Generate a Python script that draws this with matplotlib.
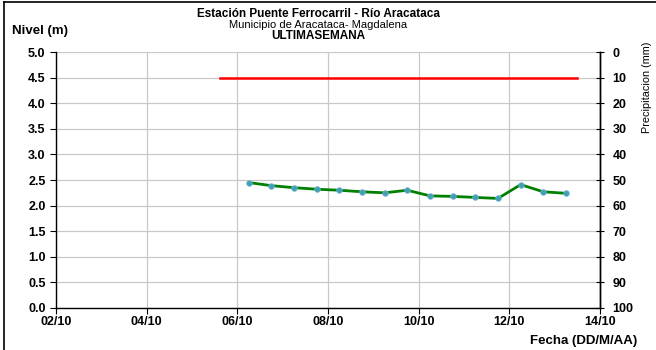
import pandas as pd
import matplotlib.pyplot as plt
import matplotlib.dates as mdates
from matplotlib.lines import Line2D

plt.rcParams['font.family'] = ['Liberation Sans', 'DejaVu Sans']

# Nivel readings every 12 hours (m)
fechas = pd.date_range('2023-10-06 06:00', periods=15, freq='12h')
nivel = [2.45, 2.39, 2.35, 2.32, 2.30, 2.27, 2.25, 2.30, 2.19, 2.18,
         2.16, 2.14, 2.41, 2.27, 2.24]

# Alert threshold line
umbral_fechas = pd.to_datetime(['2023-10-05 15:00', '2023-10-13 12:00'])
umbral = [4.5, 4.5]

xticks = pd.date_range('2023-10-02', '2023-10-14', freq='2D')
nivel_ticks = [i * 0.5 for i in range(11)]
precip_ticks = list(range(0, 101, 10))

fig = plt.figure(figsize=(6.56, 3.5), dpi=100)
ax = fig.add_axes([0.0854, 0.12, 0.8292, 0.7314])

ax.plot(umbral_fechas, umbral, color='#ff0000', linewidth=1.8, zorder=3)
ax.plot(fechas, nivel, color='#008000', linewidth=2.0, marker='o',
        markersize=4, markerfacecolor='#3fa0b0', markeredgecolor='#6fb0d8',
        markeredgewidth=0.6, zorder=4)

ax.set_xlim(xticks[0], xticks[-1])
ax.set_ylim(0, 5)
ax.set_xticks(xticks)
ax.xaxis.set_major_formatter(mdates.DateFormatter('%d/%m'))
ax.set_yticks(nivel_ticks)
ax.set_yticklabels([f'{v:.1f}' for v in nivel_ticks])
ax.grid(True, color='#c8c8c8', linewidth=0.9)
ax.set_axisbelow(True)
ax.spines['top'].set_visible(False)
for s in ['left', 'bottom', 'right']:
    ax.spines[s].set_color('black')
    ax.spines[s].set_linewidth(1.0)
ax.tick_params(axis='both', labelsize=9, length=4, color='black', width=0.8)
ax.tick_params(axis='x', pad=2)
for lbl in ax.get_xticklabels() + ax.get_yticklabels():
    lbl.set_fontweight('bold')

ax2 = ax.twinx()
ax2.set_ylim(100, 0)
ax2.set_yticks(precip_ticks)
ax2.tick_params(axis='y', labelsize=9, direction='inout', length=6, width=0.8, pad=6)
for lbl in ax2.get_yticklabels():
    lbl.set_fontweight('bold')
for s in ['top', 'left', 'bottom']:
    ax2.spines[s].set_visible(False)
ax2.spines['right'].set_linewidth(1.0)

fig.text(0.485, 0.960, 'Estación Puente Ferrocarril - Río Aracataca', ha='center',
         va='center', fontsize=8.5, fontweight='bold')
fig.text(0.485, 0.929, 'Municipio de Aracataca- Magdalena', ha='center',
         va='center', fontsize=8)
fig.text(0.485, 0.898, 'ULTIMASEMANA', ha='center', va='center',
         fontsize=8.5, fontweight='bold')
fig.text(0.018, 0.912, 'Nivel (m)', ha='left', va='center', fontsize=9.5,
         fontweight='bold')
fig.text(0.971, 0.027, 'Fecha (DD/M/AA)', ha='right', va='center', fontsize=9.5,
         fontweight='bold')
fig.text(0.986, 0.751, 'Precipitacion (mm)', ha='center', va='center',
         fontsize=7.8, rotation=90)

# chart border (left and top edges visible)
fig.add_artist(Line2D([0.006, 0.006], [0.0, 0.993], color='black', linewidth=1.2,
                      transform=fig.transFigure))
fig.add_artist(Line2D([0.006, 1.0], [0.993, 0.993], color='black', linewidth=1.2,
                      transform=fig.transFigure))

fig.savefig('out.png', dpi=100)
